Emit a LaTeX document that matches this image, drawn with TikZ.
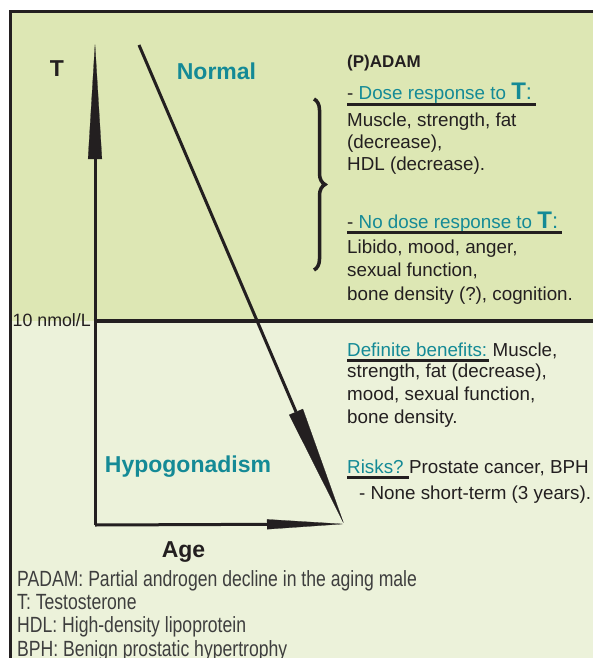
\documentclass[tikz,border=0pt]{standalone}
\usepackage{fontspec}
\setmainfont{Liberation Sans}
\newfontfamily\notefont[FakeStretch=0.8]{Liberation Sans}
\usetikzlibrary{arrows.meta,positioning,decorations.pathreplacing}
\definecolor{upgreen}{RGB}{221,231,180}
\definecolor{lowgreen}{RGB}{236,242,218}
\definecolor{hdteal}{RGB}{20,138,150}
\definecolor{ink}{RGB}{35,31,32}
\definecolor{notegray}{RGB}{62,62,62}
\newcommand{\bigT}{{\fontsize{24}{24}\selectfont\bfseries T}{\fontsize{22}{22}\selectfont:}}

\begin{document}
\begin{tikzpicture}[x=1pt, y=-1pt,
    every node/.style={inner sep=0pt, text=ink},
    body/.style={font=\fontsize{18.8}{22}\selectfont, align=left, anchor=base west},
    head/.style={font=\fontsize{18.8}{22}\selectfont, anchor=base west},
    region/.style={font=\fontsize{23}{27}\selectfont\bfseries, text=hdteal, anchor=base},
    axis/.style={line width=3pt, draw=ink},
    uline/.style={line width=2.2pt, draw=ink}]
    \useasboundingbox (0,0) rectangle (593,658);

    % background panels
    \fill[upgreen] (10,11) rectangle (593,321);
    \fill[lowgreen] (10,321) rectangle (593,658);
    \draw[line width=3pt, ink] (10,658) -- (10,11.5) -- (593,11.5);

    % axes and decline line
    \coordinate (origin) at (95,525);
    \coordinate (ttip) at (95,43);
    \coordinate (atip) at (344,524);
    \coordinate (dstart) at (139,45);
    \coordinate (lvl) at (93.5,321);
    \coordinate (lvlend) at (593,321);

    \draw[axis, -{Triangle[length=116pt,width=14pt,line width=0.2pt]}] (origin) -- (ttip);
    \draw[axis, -{Triangle[length=77pt,width=10pt,line width=0.2pt]}] (origin) -- (atip);
    \draw[axis, -{Triangle[length=122pt,width=15pt,line width=0.2pt]}] (dstart) -- (atip);
    \draw[line width=4pt, ink] (lvl) -- (lvlend);

    \node[font=\fontsize{23}{27}\selectfont\bfseries, anchor=base] (tlab) at (57,77) {T};
    \node[font=\fontsize{23}{27}\selectfont\bfseries, anchor=base] (age) at (183.5,557) {Age};
    \node[region] (normal) at (216.5,80) {Normal};
    \node[region] (hypo) at (188,472) {Hypogonadism};
    \node[font=\fontsize{17.8}{20}\selectfont, anchor=base east] (nmol) at (91,326) {10 nmol/L};

    % (P)ADAM block
    \node[font=\fontsize{17}{20}\selectfont\bfseries, anchor=base west] (padam) at (347,68) {(P)ADAM};
    \node[head] (dose) at (347,100) {- \textcolor{hdteal}{Dose response to \bigT}};
    \node[body] (dosetxt) at (347,170) {Muscle, strength, fat\\(decrease),\\HDL (decrease).};
    \node[head] (nodose) at (347,228) {- \textcolor{hdteal}{No dose response to \bigT}};
    \node[body, font=\fontsize{18.8}{23.5}\selectfont] (nodosetxt) at (347,300) {Libido, mood, anger,\\sexual function,\\bone density (?), cognition.};
    \draw[uline] ([yshift=-4.5pt]dose.base west) -- ([yshift=-4.5pt,xshift=4pt]dose.base east);
    \draw[uline] ([yshift=-4.5pt]nodose.base west) -- ([yshift=-4.5pt,xshift=4pt]nodose.base east);
    \draw[line width=3.5pt, ink, decorate, decoration={brace, amplitude=11pt}] (314,99) -- (314,270);

    % treatment block
    \node[head, text=hdteal] (benefit) at (347,356) {Definite benefits:};
    \node[head, right=5pt of benefit.base east, anchor=base west] (benefit2) {Muscle,};
    \node[body, font=\fontsize{18.8}{23}\selectfont] (benefittxt) at (347,423) {strength, fat (decrease),\\mood, sexual function,\\bone density.};
    \node[head, text=hdteal] (risk) at (347,473) {Risks?};
    \node[head, right=5pt of risk.base east, anchor=base west] (risk2) {Prostate cancer, BPH};
    \node[head] (none) at (359,499) {- None short-term (3 years).};
    \draw[uline] ([yshift=-4.5pt]benefit.base west) -- ([yshift=-4.5pt,xshift=2pt]benefit.base east);
    \draw[uline] ([yshift=-4.5pt]risk.base west) -- ([yshift=-4.5pt,xshift=5pt]risk.base east);

    % abbreviations
    \node[font=\notefont\fontsize{22}{23.3}\selectfont, text=notegray, align=left, anchor=base west] (notes) at (17,656)
      {PADAM: Partial androgen decline in the aging male\\T: Testosterone\\HDL: High-density lipoprotein\\BPH: Benign prostatic hypertrophy};
\end{tikzpicture}
\end{document}
